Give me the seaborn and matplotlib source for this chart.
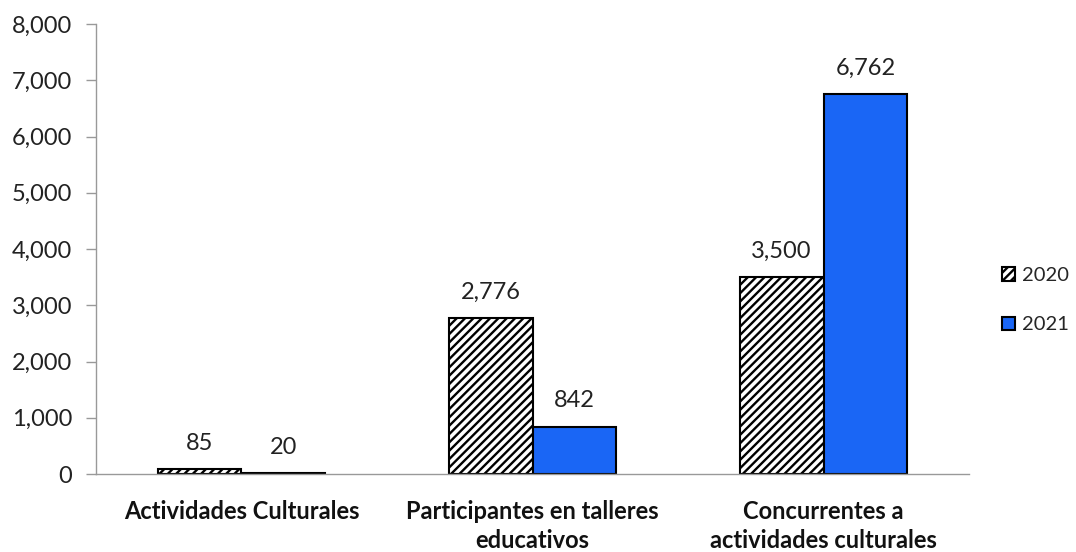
import matplotlib
matplotlib.use("Agg")
import matplotlib.pyplot as plt
from matplotlib.patches import Patch
import seaborn as sns
import pandas as pd

categories = ["Actividades Culturales", "Participantes en talleres\neducativos",
              "Concurrentes a\nactividades culturales"]
years = ["2020", "2021"]
values_2020 = [85, 2776, 3500]
values_2021 = [20, 842, 6762]
y_ticks = [0, 1000, 2000, 3000, 4000, 5000, 6000, 7000, 8000]

df = pd.DataFrame({
    "categoria": categories * 2,
    "anio": [years[0]] * 3 + [years[1]] * 3,
    "valor": values_2020 + values_2021,
})

sns.set_theme(style="white")
plt.rcParams["font.family"] = ["Lato", "DejaVu Sans"]
plt.rcParams["hatch.color"] = "#6e6e6e"
plt.rcParams["hatch.linewidth"] = 1.7

fig = plt.figure(figsize=(10.76, 5.52), dpi=100)
ax = fig.add_axes([0.0892, 0.1413, 0.8114, 0.8152])

blue = "#1a66f5"
palette = {"2020": "white", "2021": blue}
sns.barplot(data=df, x="categoria", y="valor", hue="anio", palette=palette,
            width=0.577, edgecolor="black", linewidth=1.5, ax=ax,
            saturation=1, legend=False)

for bar in ax.containers[0]:
    bar.set_hatch("////")

for cont in ax.containers:
    ax.bar_label(cont, labels=[f"{v:,.0f}" for v in cont.datavalues],
                 padding=11, fontsize=17, color="#222222")

ax.set_ylim(0, 8000)
ax.set_xlim(-0.5, 2.5)
ax.set_yticks(y_ticks)
ax.set_yticklabels([f"{t:,}" for t in y_ticks], fontsize=17, color="#222222")
ax.tick_params(axis="y", direction="out", length=7, width=1, color="#999999",
               left=True, pad=10)
ax.tick_params(axis="x", length=0, pad=19)
for lbl in ax.get_xticklabels():
    lbl.set_fontsize(17)
    lbl.set_fontweight("bold")
    lbl.set_color("#111111")
    lbl.set_linespacing(1.3)
ax.set_xlabel("")
ax.set_ylabel("")

for side in ["top", "right"]:
    ax.spines[side].set_visible(False)
for side in ["left", "bottom"]:
    ax.spines[side].set_color("#999999")
    ax.spines[side].set_linewidth(1)

handles = [Patch(facecolor="white", edgecolor="black", hatch="////", linewidth=1.5),
           Patch(facecolor=blue, edgecolor="black", linewidth=1.5)]
fig.legend(handles, years, loc="center left", bbox_to_anchor=(0.931, 0.456),
           frameon=False, fontsize=14.5, handlelength=0.65, handleheight=0.65,
           handletextpad=0.35, labelspacing=1.6, borderpad=0, borderaxespad=0)

fig.savefig("out.png", dpi=100)
